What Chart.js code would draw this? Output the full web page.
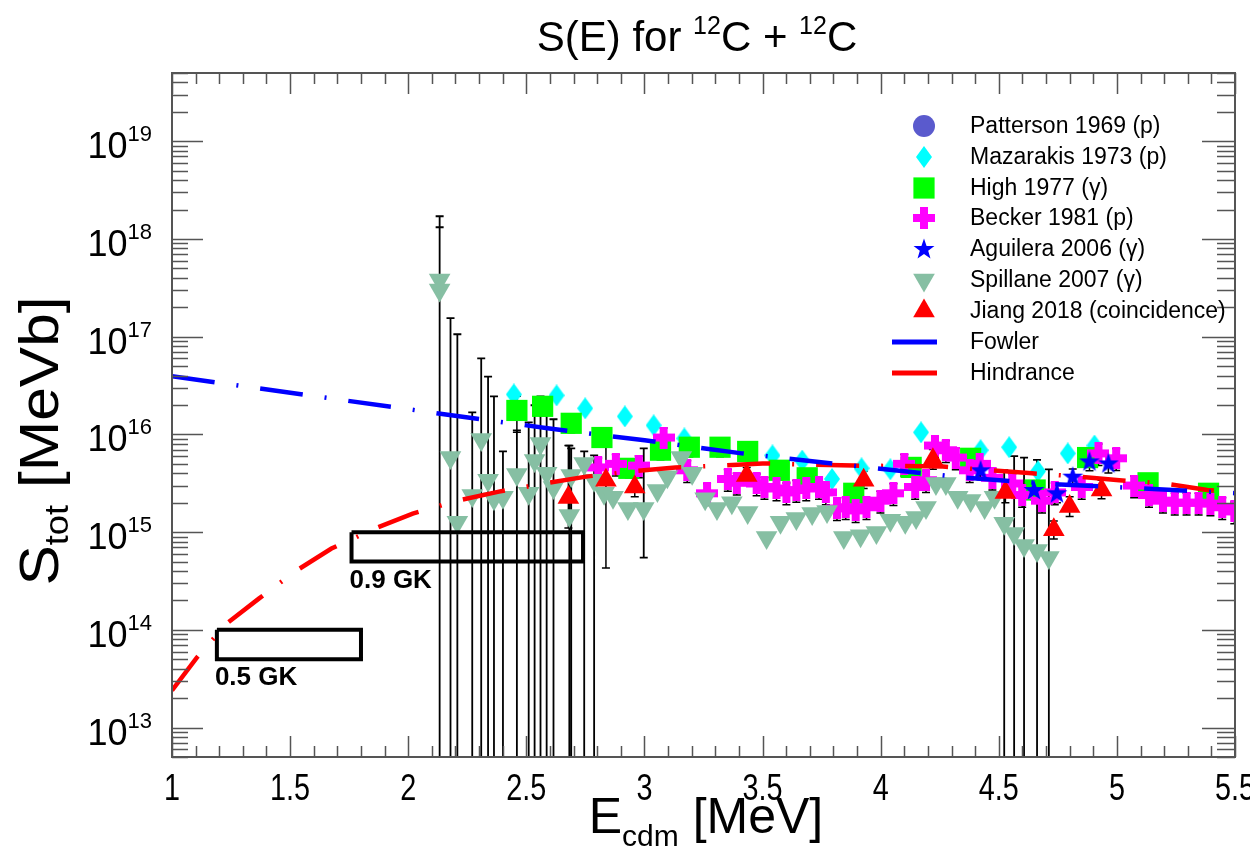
<!DOCTYPE html>
<html>
<head>
<meta charset="utf-8">
<title>S(E) for 12C + 12C</title>
<script src="https://cdn.jsdelivr.net/npm/chart.js@4.4.1/dist/chart.umd.min.js"></script>
<style>
  body { margin: 0; background: #fff; }
  canvas { display: block; }
</style>
</head>
<body>
<canvas id="sChart" width="1250" height="853"></canvas>
<script>
// E in MeV (c.m.), S in MeV b
var pattersonE = [];
var pattersonS = [];

var mazarakisE = [2.447, 2.628, 2.749, 2.917, 3.039, 3.169, 3.542, 3.668, 3.794, 3.919, 4.041, 4.171, 4.423, 4.544, 4.666, 4.792, 4.905];
var mazarakisS = [2.57e16, 2.51e16, 1.85e16, 1.53e16, 1.24e16, 9.1e15, 6.1e15, 5.4e15, 3.5e15, 4.5e15, 4.4e15, 1.05e16, 6.9e15, 7.4e15, 4.2e15, 6.4e15, 7.7e15];

var highE = [2.460, 2.569, 2.690, 2.820, 2.934, 3.068, 3.190, 3.320, 3.437, 3.571, 3.689, 3.886, 4.129, 4.381, 4.654, 4.876, 5.132, 5.388];
var highS = [1.76e16, 1.94e16, 1.30e16, 9.3e15, 4.5e15, 6.9e15, 7.4e15, 7.4e15, 6.7e15, 4.3e15, 3.6e15, 2.5e15, 4.6e15, 5.7e15, 2.7e15, 5.8e15, 3.2e15, 2.5e15];
var highErr = [0.4, 0.2, 0.2, 0.2, 0.2, 0.2, 0.2, 0.2, 0.2, 0.2, 0.2, 0.2, 0.2, 0.2, 0.2, 0.2, 0.2, 0.2];

var beckerE = [2.804, 2.879, 2.976, 3.081, 3.181, 3.265, 3.353, 3.391, 3.475, 3.508,
               3.559, 3.601, 3.643, 3.685, 3.739, 3.768, 3.815, 3.852, 3.894, 3.940,
               3.999, 4.054, 4.100, 4.146, 4.192, 4.230, 4.276, 4.318, 4.377, 4.419,
               4.473, 4.557, 4.599, 4.683, 4.737, 4.851, 4.922, 4.997, 5.073, 5.136,
               5.195, 5.245, 5.295, 5.346, 5.396, 5.446, 5.497];
var beckerS = [4.6e15, 5.0e15, 4.8e15, 9.3e15, 4.3e15, 2.5e15, 3.5e15, 3.2e15, 3.15e15, 2.9e15,
               2.8e15, 2.55e15, 2.7e15, 2.8e15, 2.9e15, 2.55e15, 1.75e15, 1.8e15, 1.67e15, 1.8e15,
               2.1e15, 2.5e15, 5.0e15, 2.9e15, 3.4e15, 7.7e15, 6.9e15, 5.8e15, 4.3e15, 5.0e15,
               3.6e15, 3.15e15, 2.4e15, 2.1e15, 2.55e15, 2.9e15, 6.4e15, 5.7e15, 3.0e15, 2.4e15,
               2.1e15, 2.0e15, 2.0e15, 2.0e15, 1.96e15, 1.8e15, 1.63e15];
var beckerErr = 0.25;

var aguileraE = [4.423, 4.649, 4.746, 4.813, 4.884, 4.964];
var aguileraS = [4.3e15, 2.7e15, 2.5e15, 3.7e15, 5.3e15, 5.05e15];
var aguileraErr = 0.2;

var spillaneE = [2.133, 2.133, 2.179, 2.208, 2.271, 2.309, 2.338, 2.363, 2.401, 2.460,
                 2.510, 2.535, 2.560, 2.586, 2.615, 2.682, 2.690, 2.745, 2.787, 2.829,
                 2.867, 2.930, 2.997, 3.055, 3.097, 3.156, 3.202, 3.257, 3.307, 3.370,
                 3.437, 3.517, 3.576, 3.643, 3.710, 3.773, 3.844, 3.915, 3.982, 4.041,
                 4.104, 4.150, 4.192, 4.234, 4.276, 4.326, 4.381, 4.440, 4.482, 4.523,
                 4.565, 4.607, 4.662, 4.712];
var spillaneS = [3.8e17, 3.0e17, 5.8e15, 1.26e15, 2.37e15, 8.9e15, 3.4e15, 2.2e15, 2.27e15, 3.9e15,
                 2.5e15, 5.4e15, 8.1e15, 4.0e15, 2.87e15, 1.48e15, 3.8e15, 5.05e15, 3.4e15, 2.5e15,
                 2.27e15, 1.75e15, 1.75e15, 2.67e15, 3.7e15, 5.8e15, 4.0e15, 2.2e15, 1.75e15, 2.0e15,
                 1.59e15, 8.8e14, 1.26e15, 1.38e15, 1.55e15, 1.63e15, 8.8e14, 9.2e14, 9.9e14, 1.32e15,
                 1.26e15, 1.41e15, 1.79e15, 3.15e15, 3.15e15, 2.27e15, 2.11e15, 1.79e15, 2.27e15, 1.23e15,
                 9.7e14, 7.3e14, 6.5e14, 5.5e14];
// upper / lower ends of the error bars (null = no bar, 0 = runs below the axis)
var spillaneHi = [1.71e18, 1.32e18, 1.55e17, 1.06e17, 1.68e16, 6.0e16, 3.9e16, 2.45e16, 6.7e15, 1.1e16,
                  1.33e16, 1.99e16, 2.45e16, 1.85e16, 1.43e16, 7.7e15, 7.2e15, 6.7e15, 6.1e15, null,
                  null, null, 7.2e15, null, null, null, null, null, null, null,
                  null, null, null, null, null, null, null, null, null, null,
                  null, null, null, null, null, null, null, null, null, 4.3e15,
                  6.0e15, 5.8e15, 5.5e15, 4.4e15];
var spillaneLo = [0, 0, 0, 0, 0, 0, 0, 0, 0, 0,
                  0, 0, 0, 0, 0, 0, 0, 0, 0, null,
                  null, null, 5.5e14, null, null, null, null, null, null, null,
                  null, null, null, null, null, null, null, null, null, null,
                  null, null, null, null, null, null, null, null, null, 0,
                  0, 0, 0, 0];

var jiangE = [2.678, 2.837, 2.959, 3.433, 3.928, 4.221, 4.528, 4.733, 4.800, 4.935];
var jiangS = [2.26e15, 3.4e15, 2.9e15, 3.8e15, 3.4e15, 5.5e15, 2.55e15, 1.06e15, 1.83e15, 2.7e15];
var jiangHi = [7.7e15, 9.3e15, 3.6e15, 4.6e15, 4.2e15, 7.0e15, 3.2e15, 1.3e15, 2.3e15, 3.4e15];
var jiangLo = [1.1e15, 4.3e14, 2.3e15, 3.1e15, 2.8e15, 4.4e15, 2.0e15, 8.5e14, 1.45e15, 2.2e15];

var fowlerE = [1.0, 2.128, 2.598, 3.001, 3.412, 3.982, 4.360, 4.737, 5.115, 5.509];
var fowlerS = [3.94e16, 1.64e16, 1.15e16, 8.7e15, 6.4e15, 4.5e15, 3.6e15, 3.1e15, 2.8e15, 2.5e15];

var hindranceE = [1.0, 1.105, 1.231, 1.369, 1.524, 1.675, 1.860, 2.019, 2.208, 2.384, 2.577, 2.753,
                  2.951, 3.131, 3.328, 3.500, 3.886, 4.263, 4.461, 4.641, 4.838, 5.010, 5.199, 5.383, 5.509];
var hindranceS = [2.4e13, 5.2e13, 1.16e14, 2.1e14, 4.0e14, 6.8e14, 1.09e15, 1.55e15, 2.1e15, 2.6e15, 3.15e15, 3.7e15,
                  4.2e15, 4.6e15, 4.8e15, 5.05e15, 4.8e15, 4.7e15, 4.3e15, 4.0e15, 3.7e15, 3.4e15, 3.15e15, 2.7e15, 2.55e15];

// Gamow windows
var box05E = [1.19, 1.80];
var box05S = [5e13, 1e14];
var box09E = [1.76, 2.74];
var box09S = [5e14, 1e15];

var xTicks = [1, 1.5, 2, 2.5, 3, 3.5, 4, 4.5, 5, 5.5];
var yDecades = [13, 14, 15, 16, 17, 18, 19];

var FONT = "'Liberation Sans', Arial, sans-serif";
var SPILL = 'rgb(134,191,163)';

function pts(E, S) {
    return E.map(function (e, i) { return { x: e, y: S[i] }; });
}
function boxPts(E, S) {
    return [{ x: E[0], y: S[1] }, { x: E[1], y: S[1] }, { x: E[1], y: S[0] }, { x: E[0], y: S[0] }, { x: E[0], y: S[1] }];
}
function relHi(S, r) { return S.map(function (s, i) { return s * (1 + (Array.isArray(r) ? r[i] : r)); }); }
function relLo(S, r) { return S.map(function (s, i) { return s * (1 - (Array.isArray(r) ? r[i] : r)); }); }

function makeMarker(w, h, draw) {
    var c = document.createElement('canvas');
    c.width = w; c.height = h;
    draw(c.getContext('2d'), w, h);
    return c;
}
var plusMarker = makeMarker(22, 22, function (g) {
    g.fillStyle = '#ff00ff';
    g.fillRect(0, 7, 22, 8);
    g.fillRect(7, 0, 8, 22);
});
var starMarker = makeMarker(22, 22, function (g) {
    g.fillStyle = '#0000ff';
    g.beginPath();
    for (var i = 0; i < 10; i++) {
        var r = i % 2 === 0 ? 11 : 4.4;
        var a = -Math.PI / 2 + i * Math.PI / 5;
        g.lineTo(11 + r * Math.cos(a), 11.5 + r * Math.sin(a));
    }
    g.closePath();
    g.fill();
});
var diamondMarker = makeMarker(16, 22, function (g) {
    g.fillStyle = '#00ffff';
    g.beginPath();
    g.moveTo(8, 0); g.lineTo(16, 11); g.lineTo(8, 22); g.lineTo(0, 11);
    g.closePath();
    g.fill();
});

var errorSets = [
    { E: highE, hi: relHi(highS, highErr), lo: relLo(highS, highErr), w: 1.5 },
    { E: beckerE, hi: relHi(beckerS, beckerErr), lo: relLo(beckerS, beckerErr), w: 1.5 },
    { E: aguileraE, hi: relHi(aguileraS, aguileraErr), lo: relLo(aguileraS, aguileraErr), w: 1.5 },
    { E: spillaneE, hi: spillaneHi, lo: spillaneLo, w: 1.8 },
    { E: jiangE, hi: jiangHi, lo: jiangLo, w: 1.5 }
];

function drawErrorBars(chart) {
    var ctx = chart.ctx, a = chart.chartArea, xs = chart.scales.x, ys = chart.scales.y;
    ctx.save();
    ctx.beginPath();
    ctx.rect(a.left, a.top, a.right - a.left, a.bottom - a.top);
    ctx.clip();
    ctx.strokeStyle = '#000';
    errorSets.forEach(function (set) {
        ctx.lineWidth = set.w;
        ctx.beginPath();
        set.E.forEach(function (e, i) {
            var hi = set.hi[i], lo = set.lo[i];
            if (hi === null || hi === undefined) return;
            var px = xs.getPixelForValue(e);
            var yHi = ys.getPixelForValue(hi);
            var yLo = (lo > 0) ? ys.getPixelForValue(lo) : a.bottom + 5;
            ctx.moveTo(px, yHi); ctx.lineTo(px, yLo);
            ctx.moveTo(px - 4, yHi); ctx.lineTo(px + 4, yHi);
            if (lo > 0) { ctx.moveTo(px - 4, yLo); ctx.lineTo(px + 4, yLo); }
        });
        ctx.stroke();
    });
    ctx.restore();
}

function richText(ctx, parts, x, y, align, sx) {
    sx = sx || 1;
    var total = 0;
    parts.forEach(function (p) {
        ctx.font = (p[3] ? 'bold ' : '') + p[1] + 'px ' + FONT;
        total += ctx.measureText(p[0]).width;
    });
    var start = align === 'center' ? x - total * sx / 2 : (align === 'right' ? x - total * sx : x);
    ctx.save();
    ctx.translate(start, y);
    ctx.scale(sx, 1);
    ctx.textAlign = 'left';
    ctx.textBaseline = 'alphabetic';
    var cx = 0;
    parts.forEach(function (p) {
        ctx.font = (p[3] ? 'bold ' : '') + p[1] + 'px ' + FONT;
        ctx.fillText(p[0], cx, p[2]);
        cx += ctx.measureText(p[0]).width;
    });
    ctx.restore();
}

function drawFrame(chart) {
    var ctx = chart.ctx, a = chart.chartArea, xs = chart.scales.x, ys = chart.scales.y;
    ctx.save();
    ctx.strokeStyle = '#555';
    ctx.lineWidth = 2;
    ctx.strokeRect(a.left, a.top, a.right - a.left, a.bottom - a.top);
    ctx.lineWidth = 1.5;
    ctx.beginPath();
    for (var i = 0; i <= 45; i++) {
        var px = Math.round(xs.getPixelForValue(1 + i * 0.1)) + 0.5;
        var len = (i % 5 === 0) ? 21 : 11;
        ctx.moveTo(px, a.bottom); ctx.lineTo(px, a.bottom - len);
        ctx.moveTo(px, a.top); ctx.lineTo(px, a.top + len);
    }
    for (var d = 12; d <= 19; d++) {
        for (var m = 1; m <= 9; m++) {
            var val = m * Math.pow(10, d);
            if (val < ys.min || val > ys.max) continue;
            var py = Math.round(ys.getPixelForValue(val)) + 0.5;
            var major = m === 1;
            ctx.moveTo(a.left, py); ctx.lineTo(a.left + (major ? 31 : 16), py);
            ctx.moveTo(a.right, py); ctx.lineTo(a.right - (major ? 33 : 18), py);
        }
    }
    ctx.stroke();
    ctx.restore();
}

function drawTexts(chart) {
    var ctx = chart.ctx, a = chart.chartArea, xs = chart.scales.x, ys = chart.scales.y;
    ctx.save();
    ctx.fillStyle = '#000';

    // tick labels
    xTicks.forEach(function (v) {
        richText(ctx, [[String(v), 36, 0]], xs.getPixelForValue(v), a.bottom + 43, 'center', 0.8);
    });
    yDecades.forEach(function (d) {
        var py = ys.getPixelForValue(Math.pow(10, d));
        richText(ctx, [['10', 36, 17], [String(d), 22, 0]], 152, py, 'right');
    });

    // titles
    richText(ctx, [['S(E) for ', 42, 0], ['12', 25, -17], ['C + ', 42, 0], ['12', 25, -17], ['C', 42, 0]], 697, 51, 'center');
    richText(ctx, [['E', 50, 0], ['cdm', 30, 13], [' [MeV]', 50, 0]], 706, 833, 'center', 1.0);
    ctx.save();
    ctx.translate(58, 441);
    ctx.rotate(-Math.PI / 2);
    richText(ctx, [['S', 55, 0], ['tot', 33, 10], [' [MeVb]', 55, 0]], 0, 0, 'center', 1.1);
    ctx.restore();

    // window labels
    richText(ctx, [['0.5 GK', 26, 0, true]], xs.getPixelForValue(box05E[0]) - 2, ys.getPixelForValue(box05S[0]) + 26, 'left');
    richText(ctx, [['0.9 GK', 26, 0, true]], xs.getPixelForValue(box09E[0]) - 2, ys.getPixelForValue(box09S[0]) + 26, 'left');
    ctx.restore();
}

function drawLegend(chart) {
    var ctx = chart.ctx;
    var drawPoint = Chart.helpers && Chart.helpers.drawPoint;
    var rowY = [126, 157, 188, 218, 249, 280, 311, 342, 373];
    ctx.save();
    chart.data.datasets.forEach(function (ds) {
        if (ds.legendRow === undefined) return;
        var y = rowY[ds.legendRow];
        if (ds.showLine) {
            ctx.strokeStyle = ds.borderColor;
            ctx.lineWidth = 5;
            ctx.beginPath();
            ctx.moveTo(892, y); ctx.lineTo(937, y);
            ctx.stroke();
        } else if (drawPoint) {
            ctx.fillStyle = ds.backgroundColor;
            drawPoint(ctx, { pointStyle: ds.pointStyle, radius: ds.pointRadius, rotation: ds.pointRotation || 0, borderWidth: 0 }, 924, y);
        }
        ctx.fillStyle = '#000';
        ctx.font = '23px ' + FONT;
        ctx.textAlign = 'left';
        ctx.textBaseline = 'middle';
        ctx.fillText(ds.label, 970, y + 1);
    });
    ctx.restore();
}

var rootStyle = {
    id: 'rootStyle',
    beforeDatasetsDraw: function (chart) { drawErrorBars(chart); },
    afterDraw: function (chart) {
        drawFrame(chart);
        drawTexts(chart);
        drawLegend(chart);
    }
};

var sData = {
    datasets: [
        { label: 'Patterson 1969 (p)', legendRow: 0, data: pts(pattersonE, pattersonS), pointStyle: 'circle', pointRadius: 11,
          backgroundColor: 'rgb(90,90,205)', borderColor: 'rgb(90,90,205)', pointBorderWidth: 0, order: 7 },
        { label: 'Mazarakis 1973 (p)', legendRow: 1, data: pts(mazarakisE, mazarakisS), pointStyle: diamondMarker, pointRadius: 11,
          backgroundColor: '#00ffff', borderColor: '#00ffff', pointBorderWidth: 0, order: 6 },
        { label: 'High 1977 (γ)', legendRow: 2, data: pts(highE, highS), pointStyle: 'rect', pointRadius: 15,
          backgroundColor: '#00ff00', borderColor: '#00ff00', pointBorderWidth: 0, order: 5 },
        { label: 'Becker 1981 (p)', legendRow: 3, data: pts(beckerE, beckerS), pointStyle: plusMarker, pointRadius: 11,
          backgroundColor: '#ff00ff', borderColor: '#ff00ff', pointBorderWidth: 0, order: 4 },
        { label: 'Aguilera 2006 (γ)', legendRow: 4, data: pts(aguileraE, aguileraS), pointStyle: starMarker, pointRadius: 11,
          backgroundColor: '#0000ff', borderColor: '#0000ff', pointBorderWidth: 0, order: 3 },
        { label: 'Spillane 2007 (γ)', legendRow: 5, data: pts(spillaneE, spillaneS), pointStyle: 'triangle', pointRotation: 180, pointRadius: 12.5,
          backgroundColor: SPILL, borderColor: SPILL, pointBorderWidth: 0, order: 2 },
        { label: 'Jiang 2018 (coincidence)', legendRow: 6, data: pts(jiangE, jiangS), pointStyle: 'triangle', pointRadius: 12.5,
          backgroundColor: '#ff0000', borderColor: '#ff0000', pointBorderWidth: 0, order: 1 },
        { label: 'Fowler', legendRow: 7, data: pts(fowlerE, fowlerS), showLine: true, pointRadius: 0, borderColor: '#0000ff',
          borderWidth: 4.5, borderDash: [43, 22, 2, 22], borderCapStyle: 'butt', fill: false, order: 0 },
        { label: 'Hindrance', legendRow: 8, data: pts(hindranceE, hindranceS), showLine: true, pointRadius: 0, borderColor: '#ff0000',
          borderWidth: 4.5, borderDash: [43, 22, 2, 22], borderCapStyle: 'butt', fill: false, order: 0 },
        { label: '0.5 GK', data: boxPts(box05E, box05S), showLine: true, pointRadius: 0, borderColor: '#000',
          borderWidth: 4, borderJoinStyle: 'miter', fill: false, order: 0 },
        { label: '0.9 GK', data: boxPts(box09E, box09S), showLine: true, pointRadius: 0, borderColor: '#000',
          borderWidth: 4, borderJoinStyle: 'miter', fill: false, order: 0 }
    ]
};

var sConfig = {
    type: 'scatter',
    data: sData,
    options: {
        responsive: false,
        animation: false,
        events: [],
        layout: { padding: { left: 172, top: 73, right: 3, bottom: 96 } },
        scales: {
            x: { type: 'linear', min: 1, max: 5.5, bounds: 'data', display: false },
            y: { type: 'logarithmic', min: 5e12, max: 5e19, bounds: 'data', display: false }
        },
        plugins: {
            legend: { display: false },
            title: { display: false },
            tooltip: { enabled: false }
        }
    },
    plugins: [rootStyle]
};

const sChart = new Chart(document.getElementById('sChart'), sConfig);
</script>
</body>
</html>
